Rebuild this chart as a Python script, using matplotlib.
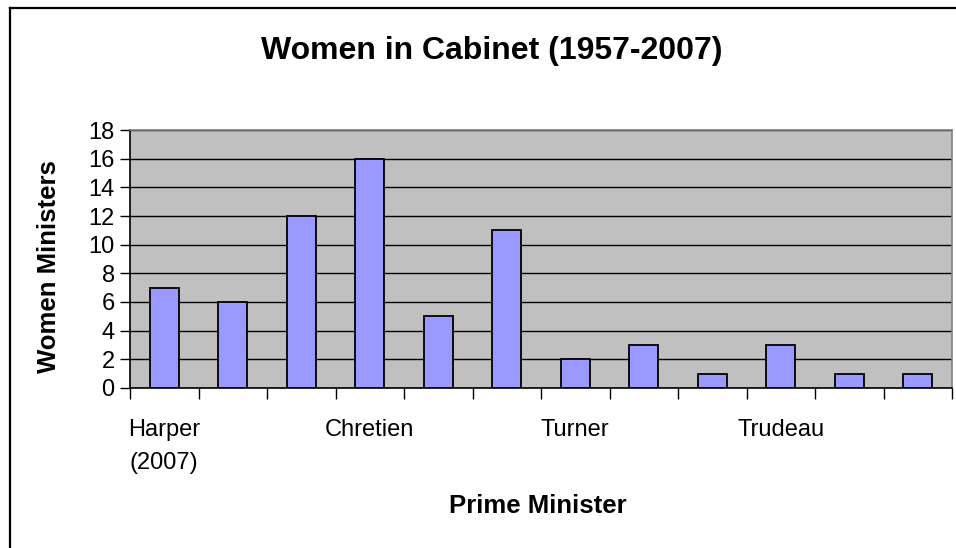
import matplotlib.pyplot as plt
from matplotlib.lines import Line2D
from matplotlib.ticker import FixedLocator, NullFormatter

plt.rcParams["font.family"] = ["Liberation Sans", "DejaVu Sans"]

PM_LABELS = ["Harper\n(2007)", "", "", "Chretien", "", "", "Turner", "", "", "Trudeau", "", ""]
WOMEN_MINISTERS = [7, 6, 12, 16, 5, 11, 2, 3, 1, 3, 1, 1]
Y_TICKS = list(range(0, 19, 2))

W, H = 956, 548
fig = plt.figure(figsize=(W / 100, H / 100), dpi=100)
ax = fig.add_axes([130 / W, 1 - 388 / H, (952 - 130) / W, (388 - 130) / H])
ax.set_facecolor("#C0C0C0")

x = list(range(len(WOMEN_MINISTERS)))
ax.bar(x, WOMEN_MINISTERS, width=0.42, color="#9999FF", edgecolor="black", linewidth=1.3, zorder=3)

ax.set_xlim(-0.5, len(x) - 0.5)
ax.set_ylim(0, 18)
ax.set_yticks(Y_TICKS)
ax.yaxis.grid(True, color="black", linewidth=1.0, zorder=1)
ax.set_axisbelow(True)

# boundary ticks (major) and category labels (minor)
ax.xaxis.set_major_locator(FixedLocator([i - 0.5 for i in range(len(x) + 1)]))
ax.xaxis.set_major_formatter(NullFormatter())
ax.xaxis.set_minor_locator(FixedLocator(x))
ax.set_xticklabels(PM_LABELS, minor=True)
ax.tick_params(axis="x", which="major", direction="out", length=8, width=1.0, color="black")
ax.tick_params(axis="x", which="minor", length=0, pad=22, labelsize=17)
ax.tick_params(axis="y", direction="out", length=7, width=1.0, labelsize=17, pad=4)
for lbl in ax.get_xticklabels(minor=True):
    lbl.set_multialignment("center")
    lbl.set_linespacing(1.65)

for side in ["top", "right"]:
    ax.spines[side].set_color("#808080")
    ax.spines[side].set_linewidth(1.2)
ax.spines["left"].set_color("black")
ax.spines["bottom"].set_color("black")
ax.spines["left"].set_linewidth(1.2)
ax.spines["bottom"].set_linewidth(1.2)

fig.text(492 / W, 1 - 51 / H, "Women in Cabinet (1957-2007)", ha="center", va="center",
         fontsize=23, fontweight="bold")
fig.text(49 / W, 1 - 267 / H, "Women Ministers", ha="center", va="center", rotation=90,
         fontsize=18.5, fontweight="bold")
fig.text(538 / W, 1 - 506 / H, "Prime Minister", ha="center", va="center",
         fontsize=18.5, fontweight="bold")

# outer chart border, visible on left and top only
fig.add_artist(Line2D([10 / W, 10 / W], [0, 1 - 8 / H], color="black", linewidth=1.6))
fig.add_artist(Line2D([10 / W, 1], [1 - 8 / H, 1 - 8 / H], color="black", linewidth=1.6))

fig.savefig("out.png", dpi=100)
